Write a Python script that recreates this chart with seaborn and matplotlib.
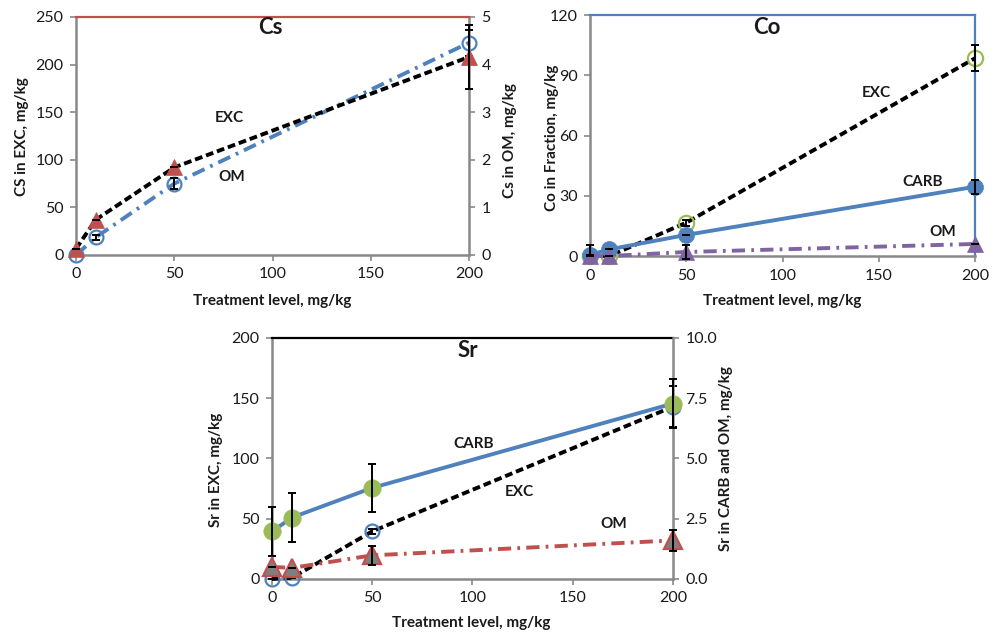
import matplotlib
matplotlib.use("Agg")
import matplotlib.pyplot as plt
import seaborn as sns

# Treatment levels (mg/kg) and axis ticks
treatment = [0, 10, 50, 200]
x_ticks = [0, 50, 100, 150, 200]

# Cs fractions: EXC on left axis, OM on right axis
cs_exc = [6.5, 37, 92, 208]
cs_exc_err = [0, 0, 0, 33.5]
cs_om = [0.0, 0.37, 1.5, 4.46]
cs_om_err = [0, 0.05, 0.12, 0.27]

# Co fractions, single axis
co_exc = [0, 0, 16.6, 98.5]
co_exc_err = [0, 0, 1.5, 6.5]
co_carb = [0.5, 3.3, 10.5, 34.5]
co_carb_err = [0, 0, 0, 3.4]
co_om = [0, 0, 2, 6]
co_om_err_low = [0, 0, 3.6, 0]
co_om_err_high = [5.5, 0, 3.6, 0]

# Sr fractions: EXC on left axis, CARB and OM on right axis
sr_exc = [0, 1, 39.5, 143]
sr_exc_err = [0, 0, 2, 17]
sr_carb = [1.97, 2.55, 3.78, 7.28]
sr_carb_err = [1.0, 1.0, 1.0, 1.0]
sr_om = [0.5, 0.46, 0.98, 1.6]
sr_om_err = [0, 0, 0.4, 0.43]

BLUE = "#4F81BD"
RED = "#C0504D"
GREEN = "#9BBB59"
PURPLE = "#8064A2"
GREY = "#898989"
TRI_GREY = "#7F7F7F"
TXT = "#1a1a1a"

DASH = (0, (2.0, 1.0))
DASHDOT = (0, (3.4, 1.6, 0.7, 1.6))
LW = 2.8
TICK_SIZE = 11.5
LABEL_SIZE = 11
INLINE_SIZE = 11
TITLE_SIZE = 16

sns.set_theme(style="white")
plt.rcParams["font.family"] = ["Lato", "DejaVu Sans"]
plt.rcParams["axes.linewidth"] = 1.5

fig = plt.figure(figsize=(9.98, 6.34), dpi=100)


def series(ax, y, color, ls, marker, ms, mfc, mec, mew=1.6, z=3):
    sns.lineplot(x=treatment, y=y, ax=ax, color=color, linestyle=ls,
                 linewidth=LW, marker=marker, markersize=ms,
                 markerfacecolor=mfc, markeredgecolor=mec,
                 markeredgewidth=mew, clip_on=False, zorder=z,
                 errorbar=None, legend=False)


def errbars(ax, y, err, z=4):
    ax.errorbar(treatment, y, yerr=err, fmt="none", ecolor="black",
                elinewidth=1.4, capsize=3, capthick=1.4, clip_on=False,
                zorder=z)


def base_style(ax, ylim, yticks, top_color):
    ax.set_xlim(0, 200)
    ax.set_ylim(*ylim)
    ax.set_xticks(x_ticks)
    ax.set_yticks(yticks)
    for s in ("left", "bottom"):
        ax.spines[s].set_color(GREY)
        ax.spines[s].set_linewidth(1.8)
    ax.spines["top"].set_color(top_color)
    ax.spines["top"].set_linewidth(1.6)
    ax.tick_params(axis="both", direction="out", length=4, width=1.2,
                   color=GREY, labelsize=TICK_SIZE, labelcolor=TXT)
    ax.tick_params(axis="y", pad=5, left=True)
    ax.tick_params(axis="x", pad=5, bottom=True)
    ax.set_xlabel("Treatment level, mg/kg", fontsize=LABEL_SIZE,
                  fontweight="bold", color=TXT, va="center", ha="center")


def right_style(ax2, ylim, yticks, fmt=None):
    ax2.set_ylim(*ylim)
    ax2.set_yticks(yticks)
    if fmt:
        ax2.set_yticklabels([fmt.format(v) for v in yticks])
    for s in ("left", "bottom", "top"):
        ax2.spines[s].set_visible(False)
    ax2.spines["right"].set_color(GREY)
    ax2.spines["right"].set_linewidth(1.8)
    ax2.tick_params(axis="y", direction="out", length=4, width=1.2,
                    color=GREY, labelsize=TICK_SIZE, labelcolor=TXT, pad=5,
                    right=True)


def label(ax, x, y, s, size=INLINE_SIZE):
    ax.text(x, y, s, fontsize=size, fontweight="bold", color=TXT,
            ha="center", va="center")


# ---------------- Cs ----------------
ax_cs = fig.add_axes([0.0762, 0.5978, 0.3938, 0.3754])
ax_cs2 = ax_cs.twinx()
base_style(ax_cs, (0, 250), [0, 50, 100, 150, 200, 250], RED)
ax_cs.spines["right"].set_visible(False)
right_style(ax_cs2, (0, 5), [0, 1, 2, 3, 4, 5])
ax_cs.set_zorder(ax_cs2.get_zorder() + 1)
ax_cs.patch.set_visible(False)

series(ax_cs2, cs_om, BLUE, DASHDOT, "o", 10, "none", BLUE)
errbars(ax_cs2, cs_om, cs_om_err)
series(ax_cs, cs_exc, "black", DASH, "^", 12, RED, RED, mew=0.5)
errbars(ax_cs, cs_exc, cs_exc_err)

ax_cs.set_ylabel("CS in EXC, mg/kg", fontsize=LABEL_SIZE, fontweight="bold",
                 color=TXT, va="center", ha="center")
ax_cs.yaxis.set_label_coords(-0.137, 0.496)
ax_cs.xaxis.set_label_coords(0.5, -0.193)
ax_cs2.set_ylabel("Cs in OM, mg/kg", fontsize=LABEL_SIZE, fontweight="bold",
                  color=TXT, va="center", ha="center", rotation=90)
ax_cs2.yaxis.set_label_coords(1.104, 0.479)

label(ax_cs, 98.7, 239, "Cs", size=TITLE_SIZE)
label(ax_cs, 78, 144, "EXC")
label(ax_cs, 79, 82, "OM")

# ---------------- Co ----------------
ax_co = fig.add_axes([0.5912, 0.5962, 0.3858, 0.3801])
base_style(ax_co, (0, 120), [0, 30, 60, 90, 120], BLUE)
ax_co.spines["right"].set_color(BLUE)
ax_co.spines["right"].set_linewidth(1.6)
ax_co.tick_params(axis="y", right=False)

series(ax_co, co_exc, "black", DASH, "o", 11, "none", GREEN, z=3)
series(ax_co, co_carb, BLUE, "-", "o", 11.5, BLUE, BLUE, mew=0.5, z=4)
series(ax_co, co_om, PURPLE, DASHDOT, "^", 12, PURPLE, PURPLE, mew=0.5, z=5)
errbars(ax_co, co_exc, co_exc_err, z=6)
errbars(ax_co, co_carb, co_carb_err, z=6)
errbars(ax_co, co_om, [co_om_err_low, co_om_err_high], z=6)

ax_co.set_ylabel("Co in Fraction, mg/kg", fontsize=LABEL_SIZE,
                 fontweight="bold", color=TXT, va="center", ha="center")
ax_co.yaxis.set_label_coords(-0.099, 0.49)
ax_co.xaxis.set_label_coords(0.5, -0.187)

label(ax_co, 92, 114, "Co", size=TITLE_SIZE)
label(ax_co, 148.6, 81, "EXC")
label(ax_co, 173, 37, "CARB")
label(ax_co, 183, 12, "OM")

# ---------------- Sr ----------------
ax_sr = fig.add_axes([0.2725, 0.0868, 0.4018, 0.3801])
ax_sr2 = ax_sr.twinx()
base_style(ax_sr, (0, 200), [0, 50, 100, 150, 200], "black")
ax_sr.spines["right"].set_visible(False)
right_style(ax_sr2, (0, 10), [0, 2.5, 5.0, 7.5, 10.0], fmt="{:.1f}")

series(ax_sr, sr_exc, "black", DASH, "o", 10, "none", BLUE)
errbars(ax_sr, sr_exc, sr_exc_err)
series(ax_sr2, sr_carb, BLUE, "-", "o", 12.5, GREEN, GREEN, mew=0.5)
errbars(ax_sr2, sr_carb, sr_carb_err)
series(ax_sr2, sr_om, RED, DASHDOT, "^", 12.5, TRI_GREY, RED, mew=1.6)
errbars(ax_sr2, sr_om, sr_om_err)

ax_sr.set_ylabel("Sr in EXC, mg/kg", fontsize=LABEL_SIZE, fontweight="bold",
                 color=TXT, va="center", ha="center")
ax_sr.yaxis.set_label_coords(-0.14, 0.452)
ax_sr.xaxis.set_label_coords(0.496, -0.183)
ax_sr2.set_ylabel("Sr in CARB and OM, mg/kg", fontsize=LABEL_SIZE,
                  fontweight="bold", color=TXT, va="center", ha="center",
                  rotation=90)
ax_sr2.yaxis.set_label_coords(1.132, 0.498)

label(ax_sr, 97.5, 190, "Sr", size=TITLE_SIZE)
label(ax_sr, 100.7, 111.7, "CARB")
label(ax_sr, 123.5, 72.5, "EXC")
label(ax_sr, 170.6, 46, "OM")

fig.savefig("out.png", dpi=100)
